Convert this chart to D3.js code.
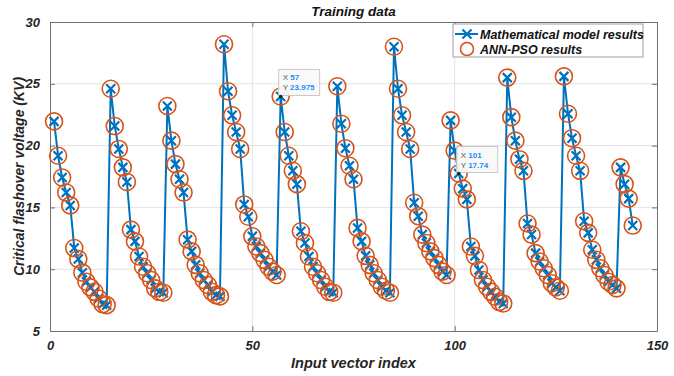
<!DOCTYPE html>
<html>
<head>
<meta charset="utf-8">
<script src="https://cdn.jsdelivr.net/npm/d3@7"></script>
<style>
  body { margin: 0; background: #fff; }
  svg text { font-family: "Liberation Sans", Arial, sans-serif; font-weight: bold; font-style: italic; }
</style>
</head>
<body>
<div id="chart"></div>
<script>
// values, one per input vector index (1..144)
const modelValues = [
  21.96, 19.18, 17.42, 16.2, 15.16, 11.71, 10.82, 9.72, 8.99, 8.53, 8.17, 7.63, 7.17, 7.09,
  24.6, 21.58, 19.73, 18.24, 17.06, 13.2, 12.25, 11.03, 10.2, 9.67, 9.13, 8.45, 8.17, 8.1,
  23.2, 20.4, 18.5, 17.28, 16.2, 12.39, 11.44, 10.35, 9.67, 9.13, 8.72, 8.17, 7.9, 7.8,
  28.2, 24.4, 22.45, 21.1, 19.73, 15.24, 14.24, 12.66, 11.84, 11.3, 10.76, 10.2, 9.8, 9.53,
  23.975, 21.1, 19.18, 17.96, 16.88, 13.07, 12.12, 11.03, 10.2, 9.67, 9.13, 8.58, 8.17, 8.1,
  24.8, 21.77, 19.79, 18.37, 17.28, 13.34, 12.25, 11.08, 10.35, 9.67, 9.13, 8.58, 8.26, 8.1,
  28.0, 24.6, 22.45, 21.1, 19.73, 15.38, 14.29, 12.8, 12.12, 11.44, 10.9, 10.35, 9.8, 9.53,
  22.04, 19.59, 17.74, 16.52, 15.65, 11.84, 11.08, 9.94, 9.13, 8.58, 8.17, 7.77, 7.36, 7.23,
  25.5, 22.3, 20.4, 18.9, 17.96, 13.7, 12.8, 11.3, 10.62, 10.08, 9.53, 8.86, 8.53, 8.26,
  25.6, 22.58, 20.6, 19.18, 17.96, 13.88, 12.94, 11.57, 10.76, 10.08, 9.53, 8.99, 8.72, 8.45,
  18.24, 16.88, 15.71, 13.53
];
// ANN-PSO output sits on top of the model values
const annValues = modelValues.slice();

const xTicks = [0, 50, 100, 150];
const yTicks = [5, 10, 15, 20, 25, 30];
const tipIndex = [57, 101];
const tipLabel = ["23.975", "17.74"];
const legendLabels = ["Mathematical model results", "ANN-PSO results"];

const blue = "#0072BD", orange = "#D95319";
const W = 674, H = 376;
const margin = {top: 22, right: 17, bottom: 45, left: 50};

const svg = d3.select("#chart").append("svg")
  .attr("width", W).attr("height", H);

const x = d3.scaleLinear().domain([0, 150]).range([margin.left, W - margin.right]);
const y = d3.scaleLinear().domain([5, 30]).range([H - margin.bottom, margin.top]);

// grid
svg.append("g").selectAll("line").data(xTicks.slice(1, -1)).join("line")
  .attr("x1", d => x(d)).attr("x2", d => x(d))
  .attr("y1", y(5)).attr("y2", y(30))
  .attr("stroke", "#e3e3e3").attr("stroke-width", 1);
svg.append("g").selectAll("line").data(yTicks.slice(1, -1)).join("line")
  .attr("x1", x(0)).attr("x2", x(150))
  .attr("y1", d => y(d)).attr("y2", d => y(d))
  .attr("stroke", "#e3e3e3").attr("stroke-width", 1);

// axes, matlab style: box with inward ticks
const axisColor = "#707070";
function styleAxis(g) {
  g.select(".domain").attr("stroke", axisColor);
  g.selectAll(".tick line").attr("stroke", axisColor);
  g.selectAll(".tick text").attr("fill", "#262626").style("font-size", "13px");
}
svg.append("g").attr("transform", `translate(0,${y(5)})`)
  .call(d3.axisBottom(x).tickValues(xTicks).tickSize(-5).tickPadding(10).tickSizeOuter(0))
  .call(styleAxis);
svg.append("g").attr("transform", `translate(0,${y(30)})`)
  .call(d3.axisTop(x).tickValues(xTicks).tickSize(-5).tickFormat("").tickSizeOuter(0))
  .call(styleAxis);
svg.append("g").attr("transform", `translate(${x(0)},0)`)
  .call(d3.axisLeft(y).tickValues(yTicks).tickSize(-5).tickPadding(10).tickSizeOuter(0))
  .call(styleAxis);
svg.append("g").attr("transform", `translate(${x(150)},0)`)
  .call(d3.axisRight(y).tickValues(yTicks).tickSize(-5).tickFormat("").tickSizeOuter(0))
  .call(styleAxis);

// model line
const line = d3.line().x((d, i) => x(i + 1)).y(d => y(d));
svg.append("path").datum(modelValues)
  .attr("fill", "none").attr("stroke", blue).attr("stroke-width", 2)
  .attr("stroke-linejoin", "round")
  .attr("d", line);

const s = 4.5;
const crossPath = `M${-s},${-s}L${s},${s}M${-s},${s}L${s},${-s}`;
svg.append("g").selectAll("path").data(modelValues).join("path")
  .attr("transform", (d, i) => `translate(${x(i + 1)},${y(d)})`)
  .attr("d", crossPath)
  .attr("stroke", blue).attr("stroke-width", 2.2).attr("fill", "none");

svg.append("g").selectAll("circle").data(annValues).join("circle")
  .attr("cx", (d, i) => x(i + 1)).attr("cy", d => y(d))
  .attr("r", 8.5)
  .attr("fill", "none").attr("stroke", orange).attr("stroke-width", 1.6);

// data tips
tipIndex.forEach((idx, k) => {
  const px = x(idx), py = y(modelValues[idx - 1]);
  const g = svg.append("g").attr("transform", `translate(${px - 2},${py - 27})`);
  g.append("rect").attr("width", 41).attr("height", 26)
    .attr("fill", "#f8f8f8").attr("fill-opacity", 0.92)
    .attr("stroke", "#c8c8c8").attr("stroke-width", 1);
  const t1 = g.append("text").attr("x", 4).attr("y", 11).style("font-size", "8px")
    .style("font-style", "normal").style("font-weight", "normal");
  t1.append("tspan").attr("fill", "#555").text("X ");
  t1.append("tspan").attr("fill", "#1a8cff").style("font-weight", "bold").text(idx);
  const t2 = g.append("text").attr("x", 4).attr("y", 21).style("font-size", "8px")
    .style("font-style", "normal").style("font-weight", "normal");
  t2.append("tspan").attr("fill", "#555").text("Y ");
  t2.append("tspan").attr("fill", "#1a8cff").style("font-weight", "bold").text(tipLabel[k]);
  svg.append("circle").attr("cx", px).attr("cy", py).attr("r", 1.8).attr("fill", "#222");
});

// legend
const lg = svg.append("g").attr("transform", "translate(453,24)");
lg.append("rect").attr("width", 190).attr("height", 33)
  .attr("fill", "#fff").attr("stroke", "#a0a0a0").attr("stroke-width", 1);
lg.append("line").attr("x1", 2).attr("x2", 25).attr("y1", 10).attr("y2", 10)
  .attr("stroke", blue).attr("stroke-width", 2);
lg.append("path").attr("transform", "translate(14,10)").attr("d", crossPath)
  .attr("stroke", blue).attr("stroke-width", 2.2).attr("fill", "none");
lg.append("circle").attr("cx", 14).attr("cy", 25).attr("r", 6.5)
  .attr("fill", "none").attr("stroke", orange).attr("stroke-width", 1.6);
lg.selectAll("text.lab").data(legendLabels).join("text").attr("class", "lab")
  .attr("x", 27).attr("y", (d, i) => 14.5 + i * 15)
  .style("font-size", "12.5px").attr("fill", "#111").text(d => d);

// titles
svg.append("text").attr("x", (x(0) + x(150)) / 2).attr("y", 16)
  .attr("text-anchor", "middle").style("font-size", "13.5px").attr("fill", "#111")
  .text("Training data");
svg.append("text").attr("x", (x(0) + x(150)) / 2).attr("y", 368)
  .attr("text-anchor", "middle").style("font-size", "14.5px").attr("fill", "#262626")
  .text("Input vector index");
svg.append("text")
  .attr("transform", `translate(24,${(y(5) + y(30)) / 2}) rotate(-90)`)
  .attr("text-anchor", "middle").style("font-size", "14px").attr("fill", "#262626")
  .text("Critical flashover voltage (KV)");
</script>
</body>
</html>
